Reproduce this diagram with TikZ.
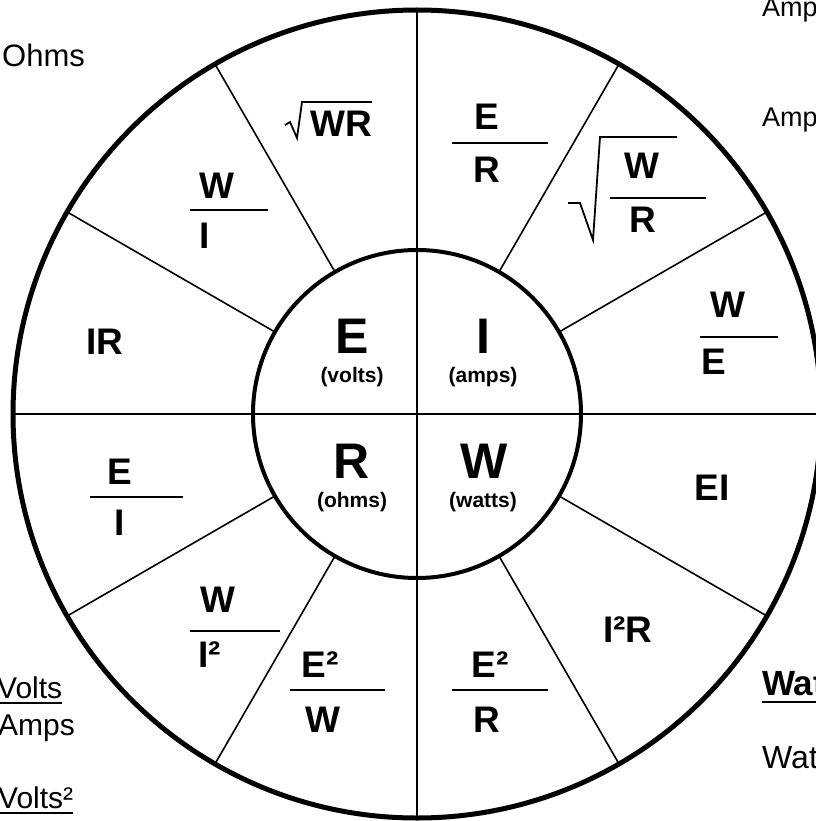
\documentclass[tikz,border=0pt]{standalone}
\usepackage{fontspec}
\setmainfont{Liberation Sans}
\begin{document}
\begin{tikzpicture}[x=1pt,y=-1pt,
  ring/.style={font=\fontsize{37}{37}\selectfont\bfseries, inner sep=0pt},
  core/.style={font=\fontsize{50}{50}\selectfont\bfseries, inner sep=0pt, anchor=base},
  sub/.style={font=\fontsize{21}{21}\selectfont\bfseries, inner sep=0pt, anchor=base},
  side/.style={font=\fontsize{30}{30}\selectfont, inner sep=0pt, anchor=base west},
  bar/.style={line width=1.5pt},
  rad/.style={line width=1.8pt, line join=miter},
  spoke/.style={line width=1.6pt}]
\useasboundingbox (0,0) rectangle (815,821);
\coordinate (c) at (417,414);
% spokes
\foreach \a in {30,60,120,150,210,240,300,330}
  \draw[spoke] ([shift={(\a:164)}]c) -- ([shift={(\a:404)}]c);
% cross
\draw[line width=2.4pt] ([shift={(0,-404)}]c) -- ([shift={(0,404)}]c);
\draw[line width=2.4pt] ([shift={(-404,0)}]c) -- ([shift={(404,0)}]c);
% circles
\draw[line width=5pt] (c) circle[radius=404];
\draw[line width=4pt] (c) circle[radius=164];
% core
\node[core] (E) at (352,353) {E};
\node[sub] (volts) at (352,382) {(volts)};
\node[core] (I) at (483,353) {I};
\node[sub] (amps) at (483,382) {(amps)};
\node[core] (R) at (352,478) {R};
\node[sub] (ohms) at (352,507) {(ohms)};
\node[core] (W) at (484,478) {W};
\node[sub] (watts) at (483,507) {(watts)};
% ring
\node[ring] (sWR) at (341,124) {WR};
\draw[rad] (285,125) -- (290,122) -- (297,138) -- (302,102) -- (372,102);
\node[ring] (ER1) at (487,117) {E};
\draw[bar] (452,143) -- (548,143);
\node[ring] (ER2) at (487,170) {R};
\draw[rad] (568,203) -- (580,203) -- (593,240) -- (600,137) -- (677,137);
\node[ring] (WR1) at (642,166) {W};
\draw[bar] (610,198) -- (706,198);
\node[ring] (WR2) at (643,220) {R};
\node[ring] (WE1) at (728,305) {W};
\draw[bar] (700,337) -- (778,337);
\node[ring] (WE2) at (714,362) {E};
\node[ring] (WI1) at (217,186) {W};
\draw[bar] (190,210) -- (268,210);
\node[ring] (WI2) at (205,236) {I};
\node[ring] (IR) at (105,342) {IR};
\node[ring] (EI1) at (120,472) {E};
\draw[bar] (90,497) -- (183,497);
\node[ring] (EI2) at (120,523) {I};
\node[ring] (EI) at (712,488) {EI};
\node[ring] (WII1) at (218,600) {W};
\draw[bar] (190,631) -- (280,631);
\node[ring] (WII2) at (210,655) {I²};
\node[ring] (EEW1) at (320,665) {E²};
\draw[bar] (290,690) -- (385,690);
\node[ring] (EEW2) at (323,720) {W};
\node[ring] (EER1) at (490,665) {E²};
\draw[bar] (452,690) -- (548,690);
\node[ring] (EER2) at (487,720) {R};
\node[ring] (IIR) at (628,630) {I²R};
% side texts
\node[side, font=\fontsize{31}{31}\selectfont] (ohmsT) at (2,67) {Ohms};
\node[side, font=\fontsize{27}{27}\selectfont] (amps1) at (762,17) {Amps};
\node[side, font=\fontsize{27}{27}\selectfont] (amps2) at (762,127) {Amps};
\node[side] (volts1) at (-3,698) {Volts};
\draw[line width=1.8pt] ([yshift=-5pt]volts1.base west) -- ([yshift=-5pt]volts1.base east);
\node[side] (amps3) at (-2,735) {Amps};
\node[side] (volts2) at (-2,808) {Volts²};
\draw[line width=1.8pt] ([yshift=-5pt]volts2.base west) -- ([yshift=-5pt]volts2.base east);
\node[side, font=\fontsize{35}{35}\selectfont\bfseries] (watts1) at (762,695) {Watts};
\draw[line width=2pt] ([yshift=-7pt]watts1.base west) -- ([yshift=-7pt]watts1.base east);
\node[side, font=\fontsize{32}{32}\selectfont] (watts2) at (762,768) {Watts};
\end{tikzpicture}
\end{document}
